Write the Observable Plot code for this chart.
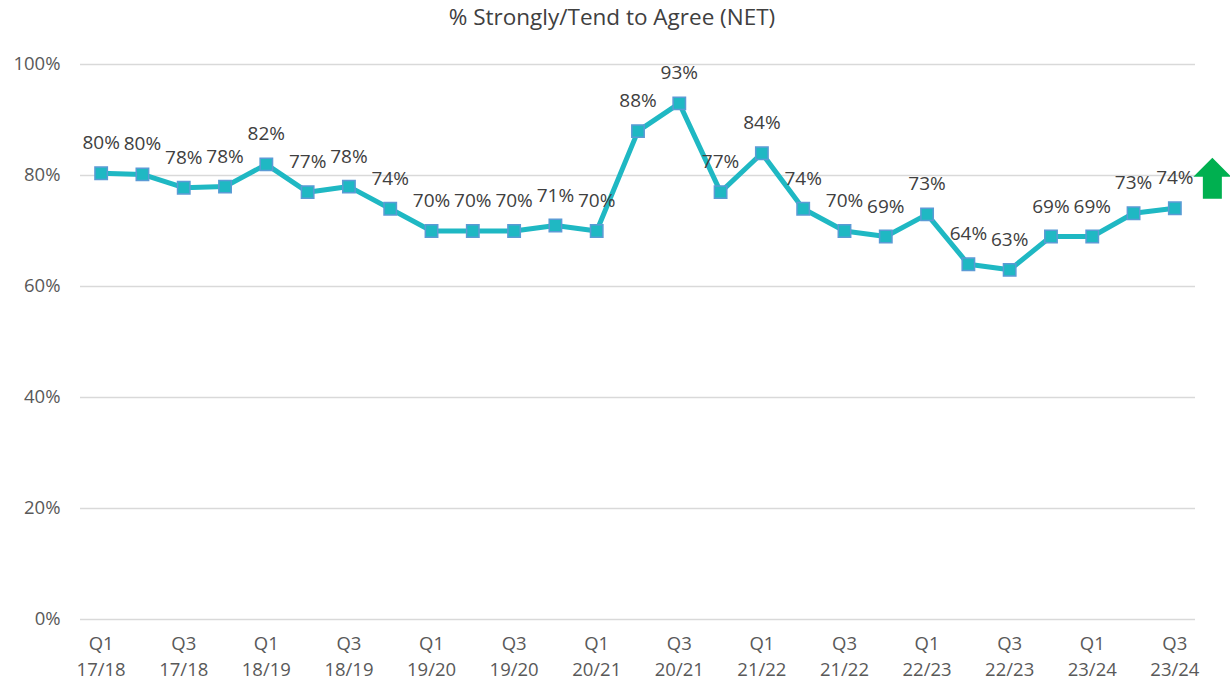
<!DOCTYPE html>
<html><head><meta charset="utf-8">
<script src="https://cdn.jsdelivr.net/npm/d3@7"></script>
<script src="https://cdn.jsdelivr.net/npm/@observablehq/plot@0.6"></script>
<style>body{margin:0;background:#fff;} svg{display:block}</style>
</head><body><div id="chart"></div>
<script>
const title = "% Strongly/Tend to Agree (NET)";
const periods = [
  "Q1\n17/18","Q2\n17/18","Q3\n17/18","Q4\n17/18",
  "Q1\n18/19","Q2\n18/19","Q3\n18/19","Q4\n18/19",
  "Q1\n19/20","Q2\n19/20","Q3\n19/20","Q4\n19/20",
  "Q1\n20/21","Q2\n20/21","Q3\n20/21","Q4\n20/21",
  "Q1\n21/22","Q2\n21/22","Q3\n21/22","Q4\n21/22",
  "Q1\n22/23","Q2\n22/23","Q3\n22/23","Q4\n22/23",
  "Q1\n23/24","Q2\n23/24","Q3\n23/24"
];
const values = [80.4, 80.2, 77.8, 78.0, 82.0, 77.0, 78.0, 74.0, 70.0, 70.0, 70.0, 71.0, 70.0,
  88.0, 93.0, 77.0, 84.0, 74.0, 70.0, 69.0, 73.0, 64.0, 63.0, 69.0, 69.0, 73.2, 74.1];
const yTicks = [0, 20, 40, 60, 80, 100];
const xTicks = periods.filter((d, i) => i % 2 === 0);

const data = periods.map((p, i) => ({period: p, value: values[i], label: Math.round(values[i]) + "%"}));

const W = 1230, H = 692;
const chart = Plot.plot({
  width: W, height: H,
  marginLeft: 80, marginRight: 35, marginTop: 64, marginBottom: 73,
  style: {fontFamily: "'Open Sans', sans-serif", fontSize: "18px", background: "#fff"},
  x: {type: "point", domain: periods, padding: 0.5, round: false},
  y: {domain: [0, 100]},
  marks: [
    Plot.gridY(yTicks, {stroke: "#d9d9d9", strokeOpacity: 1, strokeWidth: 1.3}),
    Plot.axisY({ticks: yTicks, tickSize: 0, tickPadding: 20, tickFormat: d => d + "%", fontSize: 18.5, fill: "#595959", label: null}),
    Plot.axisX({ticks: xTicks, tickSize: 0, tickPadding: 13, fontSize: 18.5, lineHeight: 1.36, fill: "#595959", label: null}),
    Plot.line(data, {x: "period", y: "value", stroke: "#1FB8C3", strokeWidth: 5}),
    Plot.dot(data, {x: "period", y: "value", symbol: "square", r: 7, fill: "#1FB8C3", stroke: "#5B9BD5", strokeWidth: 1.5}),
    Plot.text(data, {x: "period", y: "value", text: "label", dy: -30, fontSize: 19, fill: "#404040"}),
    Plot.text([title], {frameAnchor: "top", lineAnchor: "middle", dx: -26, dy: -47, fontSize: 22.5, fill: "#404040"})
  ]
});
document.getElementById("chart").appendChild(chart);

// green up arrow annotation next to the last point
const xs = chart.scale("x"), ys = chart.scale("y");
const last = data[data.length - 1];
const cx = xs.apply(last.period) + 38;
const baseY = ys.apply(last.value) - 9;
const path = d3.path();
path.moveTo(cx - 9.5, baseY);
path.lineTo(cx - 9.5, baseY - 22);
path.lineTo(cx - 19, baseY - 22);
path.lineTo(cx, baseY - 41);
path.lineTo(cx + 19, baseY - 22);
path.lineTo(cx + 9.5, baseY - 22);
path.lineTo(cx + 9.5, baseY);
path.closePath();
d3.select(chart).append("path").attr("d", path.toString()).attr("fill", "#00B050");
</script>
</body></html>
